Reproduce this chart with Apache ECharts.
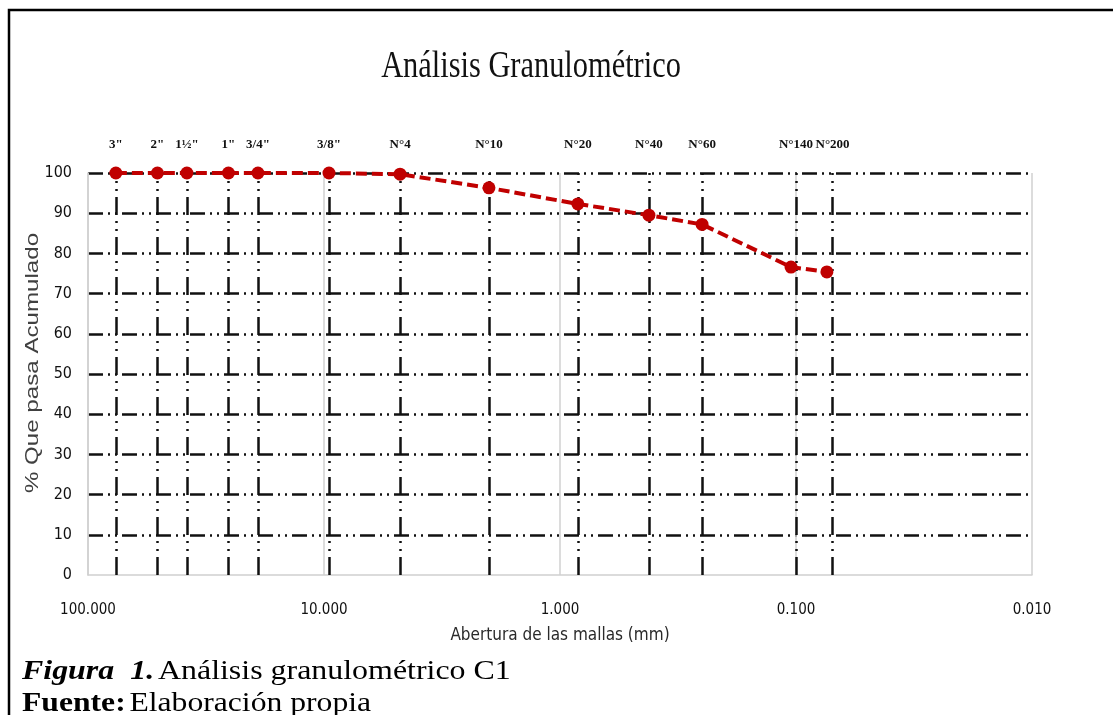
<!DOCTYPE html>
<html>
<head>
<meta charset="utf-8">
<script src="https://cdn.jsdelivr.net/npm/echarts@6/dist/echarts.min.js"></script>
<style>
    html, body { margin: 0; padding: 0; background: #fff; }
    #chart { width: 1113px; height: 715px; }
</style>
</head>
<body>
<div id="chart"></div>
<script>
// sieve data (size in mm, % passing)
const sieveLabels = ['3"', '2"', '1½"', '1"', '3/4"', '3/8"', 'N°4', 'N°10', 'N°20', 'N°40', 'N°60', 'N°140', 'N°200'];
const sieveSizes = [76.2, 50.8, 38.1, 25.4, 19.05, 9.525, 4.76, 2.0, 0.84, 0.42, 0.25, 0.105, 0.074];
const percentPassing = [100, 100, 100, 100, 100, 100, 99.7, 96.3, 92.3, 89.5, 87.2, 76.6, 75.4];
const yTicks = [0, 10, 20, 30, 40, 50, 60, 70, 80, 90, 100];

const sansFont = '"Liberation Sans Narrow", "DejaVu Sans Condensed", sans-serif';
const serifFont = '"Liberation Serif", serif';

const chart = echarts.init(document.getElementById('chart'));

chart.setOption({
    animation: false,
    grid: { left: 88, right: 81, top: 173, bottom: 140, containLabel: false },
    xAxis: {
        type: 'log',
        logBase: 10,
        inverse: true,
        min: 0.01,
        max: 100,
        name: 'Abertura de las mallas (mm)',
        nameLocation: 'middle',
        nameGap: 52,
        nameTextStyle: { fontFamily: sansFont, fontSize: 17, color: '#2a2a2a' },
        axisLine: { show: true, lineStyle: { color: '#d0d0d0', width: 1.5 } },
        axisTick: { show: false },
        axisLabel: {
            margin: 28,
            fontFamily: sansFont,
            fontSize: 15,
            color: '#111',
            formatter: v => v.toFixed(3)
        },
        splitLine: { show: true, lineStyle: { color: '#d0d0d0', width: 1.5 } },
        minorTick: { show: false }
    },
    yAxis: {
        type: 'value',
        min: 0,
        max: 100,
        interval: 10,
        axisLine: { show: true, lineStyle: { color: '#d0d0d0', width: 1.5 } },
        axisTick: { show: false },
        axisLabel: {
            margin: 16,
            fontFamily: sansFont,
            fontSize: 16,
            color: '#111',
            formatter: v => (yTicks.includes(v) ? String(v) : '')
        },
        splitLine: {
            show: true,
            showMinLine: false,
            lineStyle: { color: '#111', width: 2.5, type: [15, 5, 2, 5, 2, 5] }
        }
    },
    graphic: [
        {
            type: 'rect',
            z: -1,
            shape: { x: 9, y: 10, width: 1130, height: 740 },
            style: { fill: 'none', stroke: '#000', lineWidth: 2.5 }
        },
        {
            type: 'text',
            x: 531,
            y: 67,
            scaleX: 0.8,
            style: {
                text: 'Análisis Granulométrico',
                font: '38px ' + serifFont,
                fill: '#111',
                textAlign: 'center',
                textVerticalAlign: 'middle'
            }
        },
        {
            // y axis title
            type: 'text',
            x: 33,
            y: 363,
            rotation: Math.PI / 2,
            scaleX: 1.27,
            style: {
                text: '% Que pasa Acumulado',
                font: '19px "Liberation Sans", sans-serif',
                fill: '#404040',
                textAlign: 'center',
                textVerticalAlign: 'middle'
            }
        },
        {
            type: 'text',
            x: 22,
            y: 672,
            scaleX: 1.14,
            style: {
                text: '{fig|Figura  1.} {txt|Análisis granulométrico C1}',
                textVerticalAlign: 'middle',
                rich: {
                    fig: { fontFamily: serifFont, fontSize: 28, fontWeight: 'bold', fontStyle: 'italic', fill: '#000' },
                    txt: { fontFamily: serifFont, fontSize: 28, fill: '#000' }
                }
            }
        },
        {
            type: 'text',
            x: 22,
            y: 704,
            scaleX: 1.13,
            style: {
                text: '{b|Fuente:} {txt|Elaboración propia}',
                textVerticalAlign: 'middle',
                rich: {
                    b: { fontFamily: serifFont, fontSize: 28, fontWeight: 'bold', fill: '#000' },
                    txt: { fontFamily: serifFont, fontSize: 28, fill: '#000' }
                }
            }
        }
    ],
    series: [
        {
            type: 'line',
            data: sieveSizes.map((s, i) => [s, percentPassing[i]]),
            symbol: 'circle',
            symbolSize: 13,
            itemStyle: { color: '#c00000' },
            lineStyle: { color: '#c00000', width: 4, type: [11, 5] },
            z: 5,
            markLine: {
                silent: true,
                symbol: 'none',
                z: 3,
                lineStyle: { color: '#111', width: 2.5, type: [18, 6, 2, 6, 2, 6] },
                label: {
                    show: true,
                    position: 'end',
                    distance: 22,
                    fontFamily: serifFont,
                    fontWeight: 'bold',
                    fontSize: 13,
                    color: '#111',
                    formatter: p => p.name
                },
                emphasis: { disabled: true },
                data: sieveSizes.map((s, i) => ({ name: sieveLabels[i], xAxis: s }))
            }
        }
    ]
});
</script>
</body>
</html>
